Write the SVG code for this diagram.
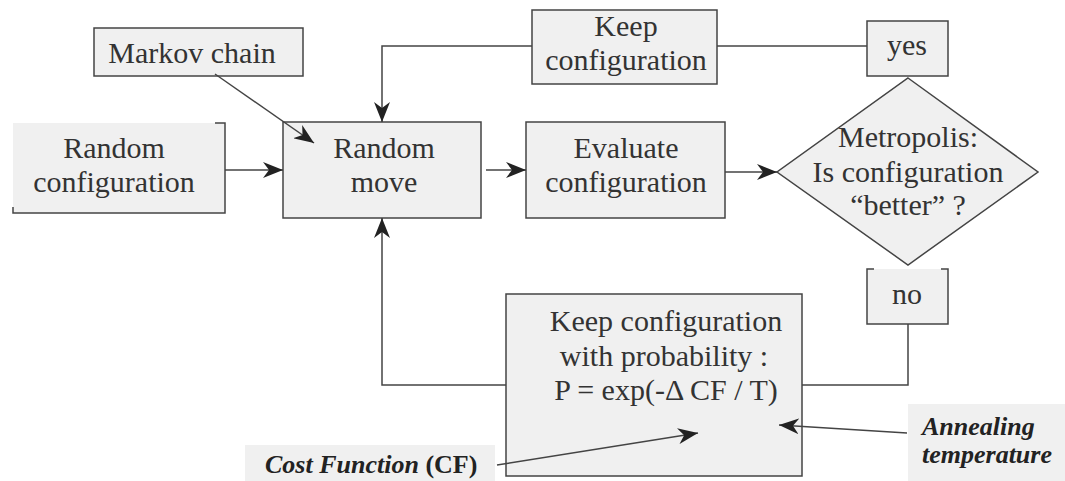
<svg xmlns="http://www.w3.org/2000/svg" width="1065" height="481" viewBox="0 0 1065 481">
  <style>
    .box { fill: #f0f0f0; stroke: #444; stroke-width: 1.5; }
    .fill { fill: #f0f0f0; stroke: none; }
    .edge { fill: none; stroke: #444; stroke-width: 1.5; }
    text { font-family: 'Liberation Serif', 'Times New Roman', Times, serif; }
    .lbl { font-size: 30px; fill: #333; text-anchor: middle; }
    .note { font-size: 26px; fill: #222; font-weight: bold; }
  </style>
  <defs>
    <marker id="arrow" viewBox="0 0 20 16" refX="20" refY="8" markerWidth="20" markerHeight="16" markerUnits="userSpaceOnUse" orient="auto">
      <path d="M0,0 L20,8 L0,16 L6,8 z" fill="#222"/>
    </marker>
  </defs>
  <rect width="1065" height="481" fill="#fff"/>

  <g id="markov-chain">
    <rect class="box" x="94" y="28" width="209" height="48"/>
    <text class="lbl" x="192" y="63">Markov chain</text>
  </g>

  <g id="random-configuration">
    <rect class="fill" x="13" y="123" width="212" height="90"/>
    <path class="edge" d="M215,123 H225 V213 H13 V207"/>
    <text class="lbl" x="114" y="158">Random</text>
    <text class="lbl" x="114" y="192">configuration</text>
  </g>

  <g id="random-move">
    <rect class="box" x="283" y="122" width="198" height="96"/>
    <text class="lbl" x="384" y="158">Random</text>
    <text class="lbl" x="384" y="192">move</text>
  </g>

  <g id="evaluate-configuration">
    <rect class="box" x="526" y="122" width="199" height="96"/>
    <text class="lbl" x="626" y="158">Evaluate</text>
    <text class="lbl" x="626" y="192">configuration</text>
  </g>

  <g id="keep-configuration">
    <rect class="box" x="532" y="10" width="185" height="74"/>
    <text class="lbl" x="626" y="36">Keep</text>
    <text class="lbl" x="626" y="70">configuration</text>
  </g>

  <g id="yes">
    <rect class="box" x="867" y="21" width="81" height="55"/>
    <text class="lbl" x="907" y="55">yes</text>
  </g>

  <g id="metropolis">
    <polygon class="box" points="908,78 1038,172 908,265 777,172"/>
    <text class="lbl" x="908" y="147">Metropolis:</text>
    <text class="lbl" x="908" y="182">Is configuration</text>
    <text class="lbl" x="908" y="215">“better” ?</text>
  </g>

  <g id="no">
    <rect class="fill" x="867" y="269" width="81" height="55"/>
    <path class="edge" d="M874,269 H867 V324 H948 V269 H941"/>
    <text class="lbl" x="907" y="304">no</text>
  </g>

  <g id="keep-with-probability">
    <rect class="box" x="506" y="294" width="296" height="182"/>
    <text class="lbl" x="666" y="331">Keep configuration</text>
    <text class="lbl" x="664" y="366">with probability :</text>
    <text class="lbl" x="666" y="400">P = exp(-Δ CF / T)</text>
  </g>

  <g id="cost-function">
    <rect class="fill" x="245" y="445" width="250" height="36"/>
    <text class="note" x="265" y="473"><tspan font-style="italic">Cost Function</tspan> (CF)</text>
  </g>

  <g id="annealing-temperature">
    <rect class="fill" x="908" y="404" width="157" height="77"/>
    <text class="note" font-style="italic" x="922" y="435">Annealing</text>
    <text class="note" font-style="italic" x="922" y="463">temperature</text>
  </g>

  <g id="connectors">
    <line class="edge" x1="225" y1="170" x2="283" y2="170" marker-end="url(#arrow)"/>
    <line class="edge" x1="215" y1="74" x2="314" y2="143" marker-end="url(#arrow)"/>
    <line class="edge" x1="486" y1="170" x2="526" y2="170" marker-end="url(#arrow)"/>
    <line class="edge" x1="725" y1="172" x2="777" y2="172" marker-end="url(#arrow)"/>
    <line class="edge" x1="717" y1="46" x2="867" y2="46"/>
    <path class="edge" d="M532,46 H382 V122" marker-end="url(#arrow)"/>
    <path class="edge" d="M908,324 V385 H802"/>
    <path class="edge" d="M506,385 H382 V218" marker-end="url(#arrow)"/>
    <line class="edge" x1="497" y1="465" x2="698" y2="433" marker-end="url(#arrow)"/>
    <line class="edge" x1="907" y1="433" x2="779" y2="425" marker-end="url(#arrow)"/>
  </g>
</svg>
